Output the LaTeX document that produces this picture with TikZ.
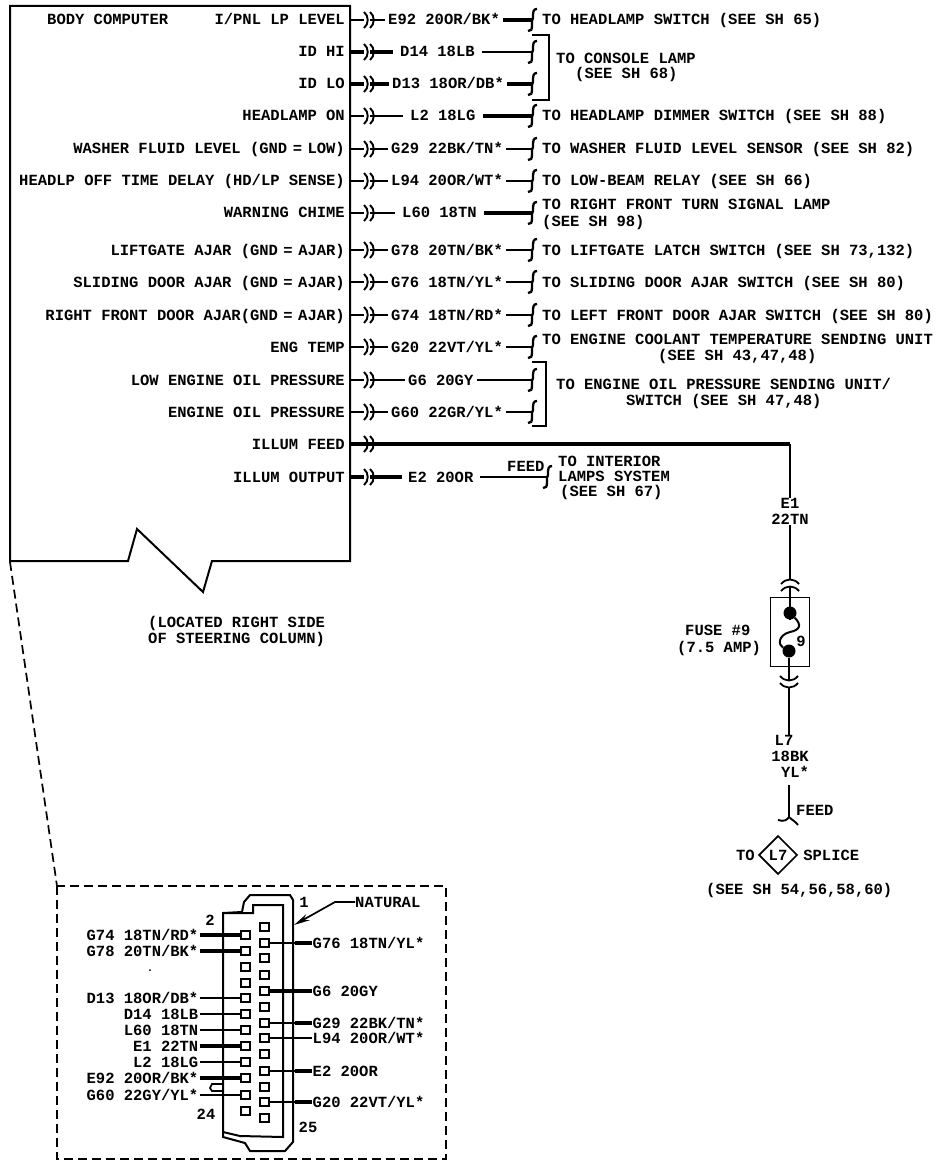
\documentclass[tikz,border=0pt]{standalone}
\usepackage{fontspec}
\setmonofont{Liberation Mono}
\usetikzlibrary{positioning,shapes.geometric,arrows.meta}
\newcommand{\wideeq}{\hspace{5.5pt}=\hspace{5.5pt}}
\tikzset{
    wthin/.style={line width=1.7pt},
    wthick/.style={line width=3.4pt},
    boxline/.style={line width=2pt},
    pintext/.style={anchor=east,inner xsep=5pt,inner ysep=0pt},
    wiretext/.style={anchor=west,inner xsep=3pt,inner ysep=0pt},
    desttext/.style={anchor=west,inner xsep=10pt,inner ysep=0pt},
    note/.style={anchor=west,inner sep=0pt},
    tag/.style={inner xsep=1pt,inner ysep=0pt},
    pinbox/.style={draw,line width=2pt,inner sep=0pt,minimum width=9pt,minimum height=8pt,text height=0pt},
    fusedot/.style={circle,fill,inner sep=0pt,minimum size=13pt,text height=0pt},
    plug/.pic={
        \fill[white] (0,-3) rectangle (6,3);
        \draw[line width=1.9pt] (0,-8) .. controls (5,-4) and (5,4) .. (0,8);
        \draw[line width=1.9pt] (6,-8) .. controls (11,-4) and (11,4) .. (6,8);},
    plugv/.pic={
        \fill[white] (-3,0) rectangle (3,7);
        \draw[line width=1.8pt] (-9,4) .. controls (-4,-2) and (4,-2) .. (9,4);
        \draw[line width=1.8pt] (-9,11) .. controls (-4,5) and (4,5) .. (9,11);},
    brk/.pic={
        \draw[line width=2.3pt] (5,-11) .. controls (1,-11) and (1,-8) .. (1,-2) -- (0,1) -- (0,5) .. controls (0,10) and (-1,11) .. (-4,11);}
}

\begin{document}
\begin{tikzpicture}[x=1pt,y=-1pt,every node/.style={font=\ttfamily\bfseries\fontsize{15.5}{16}\selectfont,text height=10pt,text depth=0pt}]
\useasboundingbox (0,0) rectangle (944,1166);

% body computer
\draw[boxline] (10,6) -- (350,6) -- (350,561) -- (212,561) -- (203,592) -- (137,529) -- (128,561) -- (10,561) -- cycle;
\node[anchor=west,inner sep=0pt] (body) at (47,20) {BODY COMPUTER};
\node[note] (located) at (148,622) {(LOCATED RIGHT SIDE};
\node[note] (column) at (148,638) {OF STEERING COLUMN)};

% left side names
\node[pintext] (level) at (350,20) {I/PNL LP LEVEL};
\node[pintext] (idhi) at (350,52) {ID HI};
\node[pintext] (idlo) at (350,84) {ID LO};
\node[pintext] (lampon) at (350,116) {HEADLAMP ON};
\node[pintext] (washer) at (350,149) {WASHER FLUID LEVEL (GND\wideeq LOW)};
\node[pintext] (delay) at (350,181) {HEADLP OFF TIME DELAY (HD/LP SENSE)};
\node[pintext] (chime) at (350,213) {WARNING CHIME};
\node[pintext] (liftgate) at (350,250) {LIFTGATE AJAR (GND\wideeq AJAR)};
\node[pintext] (sliding) at (350,282) {SLIDING DOOR AJAR (GND\wideeq AJAR)};
\node[pintext] (rfdoor) at (350,315) {RIGHT FRONT DOOR AJAR(GND\wideeq AJAR)};
\node[pintext] (engtemp) at (350,347) {ENG TEMP};
\node[pintext] (lowoil) at (350,380) {LOW ENGINE OIL PRESSURE};
\node[pintext] (oil) at (350,412) {ENGINE OIL PRESSURE};
\node[pintext] (feed) at (350,444) {ILLUM FEED};
\node[pintext] (output) at (350,477) {ILLUM OUTPUT};

% wire names
\node[wiretext] (e92) at (385,20) {E92 20OR/BK*};
\node[wiretext,inner xsep=7pt] (d14) at (393,52) {D14 18LB};
\node[wiretext] (d13) at (389,84) {D13 18OR/DB*};
\node[wiretext,inner xsep=7pt] (l2) at (403,116) {L2 18LG};
\node[wiretext] (g29) at (388,149) {G29 22BK/TN*};
\node[wiretext] (l94) at (388,181) {L94 20OR/WT*};
\node[wiretext,inner xsep=7pt] (l60) at (395,213) {L60 18TN};
\node[wiretext] (g78) at (388,250) {G78 20TN/BK*};
\node[wiretext] (g76) at (388,282) {G76 18TN/YL*};
\node[wiretext] (g74) at (388,315) {G74 18TN/RD*};
\node[wiretext] (g20) at (388,347) {G20 22VT/YL*};
\node[wiretext] (g6) at (405,380) {G6 20GY};
\node[wiretext] (g60) at (388,412) {G60 22GR/YL*};
\node[wiretext,inner xsep=6pt] (e2) at (402,477) {E2 20OR};

% destinations
\node[desttext] (tolamp) at (532,20) {TO HEADLAMP SWITCH (SEE SH 65)};
\coordinate (tohi) at (532,52);
\coordinate (tolo) at (532,84);
\node[note] (console) at (556,59) {TO CONSOLE LAMP};
\node[note] (consolesh) at (575,74) {(SEE SH 68)};
\node[desttext] (todimmer) at (532,116) {TO HEADLAMP DIMMER SWITCH (SEE SH 88)};
\node[desttext] (towasher) at (532,149) {TO WASHER FLUID LEVEL SENSOR (SEE SH 82)};
\node[desttext] (torelay) at (532,181) {TO LOW-BEAM RELAY (SEE SH 66)};
\coordinate (toturn) at (532,213);
\node[note] (turn) at (542,205) {TO RIGHT FRONT TURN SIGNAL LAMP};
\node[note] (turnsh) at (542,221) {(SEE SH 98)};
\node[desttext] (tolatch) at (532,250) {TO LIFTGATE LATCH SWITCH (SEE SH 73,132)};
\node[desttext] (toslide) at (532,282) {TO SLIDING DOOR AJAR SWITCH (SEE SH 80)};
\node[desttext] (toleft) at (532,315) {TO LEFT FRONT DOOR AJAR SWITCH (SEE SH 80)};
\coordinate (totemp) at (532,347);
\node[note] (coolant) at (542,339) {TO ENGINE COOLANT TEMPERATURE SENDING UNIT};
\node[note] (coolantsh) at (658,355) {(SEE SH 43,47,48)};
\coordinate (tolow) at (532,380);
\coordinate (tooil) at (532,412);
\node[note] (sender) at (556,384) {TO ENGINE OIL PRESSURE SENDING UNIT/};
\node[note] (sendersh) at (626,400) {SWITCH (SEE SH 47,48)};
\coordinate (tolamps) at (547,477);
\node[note] (feedtag) at (507,466) {FEED};
\node[note] (interior) at (558,461) {TO INTERIOR};
\node[note] (lamps) at (558,476) {LAMPS SYSTEM};
\node[note] (lampssh) at (560,491) {(SEE SH 67)};

% wires
\draw[wthin] (level) -- (e92);
\draw[wthick] (e92) -- (tolamp);
\draw[wthick] (idhi) -- (d14);
\draw[wthin] (d14) -- (tohi);
\draw[wthick] (idlo) -- (d13);
\draw[wthick] (d13) -- (tolo);
\draw[wthin] (lampon) -- (l2);
\draw[wthick] (l2) -- (todimmer);
\draw[wthin] (washer) -- (g29);
\draw[wthin] (g29) -- (towasher);
\draw[wthin] (delay) -- (l94);
\draw[wthin] (l94) -- (torelay);
\draw[wthin] (chime) -- (l60);
\draw[wthick] (l60) -- (toturn);
\draw[wthin] (liftgate) -- (g78);
\draw[wthin] (g78) -- (tolatch);
\draw[wthin] (sliding) -- (g76);
\draw[wthin] (g76) -- (toslide);
\draw[wthin] (rfdoor) -- (g74);
\draw[wthin] (g74) -- (toleft);
\draw[wthin] (engtemp) -- (g20);
\draw[wthin] (g20) -- (totemp);
\draw[wthin] (lowoil) -- (g6);
\draw[wthin] (g6) -- (tolow);
\draw[wthin] (oil) -- (g60);
\draw[wthin] (g60) -- (tooil);
\draw[wthick] (output) -- (e2);
\draw[wthin] (e2) -- (tolamps);
\draw[line width=2.8pt] (532,35) -- (549,35) -- (549,100) -- (532,100);
\draw[wthin] (532,362) -- (546,362) -- (546,426) -- (532,426);

\pic at (364,20) {plug};
\pic at (364,52) {plug};
\pic at (364,84) {plug};
\pic at (364,116) {plug};
\pic at (364,149) {plug};
\pic at (364,181) {plug};
\pic at (364,213) {plug};
\pic at (364,250) {plug};
\pic at (364,282) {plug};
\pic at (364,315) {plug};
\pic at (364,347) {plug};
\pic at (364,380) {plug};
\pic at (364,412) {plug};
\pic at (364,444) {plug};
\pic at (364,477) {plug};

\pic at (tolamp.west) {brk};
\pic at (tohi) {brk};
\pic at (tolo) {brk};
\pic at (todimmer.west) {brk};
\pic at (towasher.west) {brk};
\pic at (torelay.west) {brk};
\pic at (toturn) {brk};
\pic at (tolatch.west) {brk};
\pic at (toslide.west) {brk};
\pic at (toleft.west) {brk};
\pic at (totemp) {brk};
\pic at (tolow) {brk};
\pic at (tooil) {brk};
\pic at (tolamps) {brk};

% illum feed and fuse
\coordinate (turnfeed) at (790,444);
\node[tag] (e1) at (790,503) {E1};
\node[tag,below=6pt of e1] (e1ga) {22TN};
\node[draw,line width=1.7pt,inner sep=0pt,minimum width=39pt,minimum height=69pt,text height=0pt] (fuse) at (790,632) {};
\node[fusedot] (fusea) at (790,613) {};
\node[fusedot] (fuseb) at (789,651) {};
\node[tag] (nine) at (801,641) {9};
\node[note] (fusename) at (685,630) {FUSE \#9};
\node[note] (fuseamp) at (677,647) {(7.5 AMP)};
\node[tag] (l7) at (784,740) {L7};
\node[tag] (l7ga) at (790,756) {18BK};
\node[tag] (l7yl) at (795,772) {YL*};
\coordinate (hooktop) at (789,785);
\coordinate (hookend) at (789,817);
\node[note] (hookfeed) at (796,810) {FEED};
\node[diamond,draw,line width=1.7pt,aspect=1,inner sep=2.5pt] (splice) at (778,855) {L7};
\node[tag,left=2pt of splice] (to) {TO};
\node[tag,right=4pt of splice] (word) {SPLICE};
\node[note] (splicesh) at (706,889) {(SEE SH 54,56,58,60)};

\draw[wthick] (feed) -- (turnfeed);
\draw[wthin] (turnfeed) -- (e1);
\draw[wthin] (e1ga) -- (fuse);
\draw[wthin] (fuse) -- (fusea);
\draw[line width=2pt] (fusea) .. controls (802,625) and (800,630) .. (790,632) .. controls (778,635) and (778,645) .. (fuseb);
\draw[wthin] (fuseb) -- (fuse.south -| fuseb);
\draw[wthin] (fuse.south -| fuseb) -- (l7.north -| fuseb);
\draw[wthin] (hooktop) -- (hookend);
\draw[line width=1.9pt] (778,820) .. controls (784,822) and (787,820) .. (hookend) .. controls (792,820) and (795,821) .. (798,825);
\pic at (790,580) {plugv};
\pic[yscale=-1] at (789,687) {plugv};

% connector view
\draw[line width=1.7pt,dash pattern=on 9pt off 5pt] (10,562) -- (57,886);
\draw[line width=1.9pt,dash pattern=on 9pt off 5pt] (57,886) rectangle (446,1159);
\draw[boxline] (223,913) -- (242,912) -- (244,902) -- (250,895) -- (290,895) -- (293,900) -- (293,1142) -- (285,1151) -- (250,1151) -- (245,1143) -- (223,1137) -- cycle;
\draw[boxline] (223,913) -- (253,913) -- (253,905) -- (283,905) -- (283,1137) -- (240,1136) -- (223,1132);
\draw[wthin] (223,1084) -- (212,1084) -- (210,1088) -- (212,1091) -- (223,1091);
\fill (150,970) circle (1);

\node[pinbox] (pl1) at (245,935) {};
\node[pinbox] (pl2) at (245,951) {};
\node[pinbox] (pl3) at (245,967) {};
\node[pinbox] (pl4) at (245,983) {};
\node[pinbox] (pl5) at (245,998) {};
\node[pinbox] (pl6) at (245,1014) {};
\node[pinbox] (pl7) at (245,1030) {};
\node[pinbox] (pl8) at (245,1046) {};
\node[pinbox] (pl9) at (245,1062) {};
\node[pinbox] (pl10) at (245,1078) {};
\node[pinbox] (pl11) at (245,1095) {};
\node[pinbox] (pl12) at (245,1111) {};
\node[pinbox] (pr1) at (264,927) {};
\node[pinbox] (pr2) at (264,943) {};
\node[pinbox] (pr3) at (264,958) {};
\node[pinbox] (pr4) at (264,975) {};
\node[pinbox] (pr5) at (264,991) {};
\node[pinbox] (pr6) at (264,1007) {};
\node[pinbox] (pr7) at (264,1023) {};
\node[pinbox] (pr8) at (264,1038) {};
\node[pinbox] (pr9) at (264,1054) {};
\node[pinbox] (pr10) at (264,1071) {};
\node[pinbox] (pr11) at (264,1087) {};
\node[pinbox] (pr12) at (264,1102) {};
\node[pinbox] (pr13) at (264,1118) {};

\node[tag,left=40pt of pl1] (cg74) {G74 18TN/RD*};
\node[tag,left=40pt of pl2] (cg78) {G78 20TN/BK*};
\node[tag,left=40pt of pl5] (cd13) {D13 18OR/DB*};
\node[tag,left=40pt of pl6] (cd14) {D14 18LB};
\node[tag,left=40pt of pl7] (cl60) {L60 18TN};
\node[tag,left=40pt of pl8] (ce1) {E1 22TN};
\node[tag,left=40pt of pl9] (cl2) {L2 18LG};
\node[tag,left=40pt of pl10] (ce92) {E92 20OR/BK*};
\node[tag,left=40pt of pl11] (cg60) {G60 22GY/YL*};
\node[tag,right=42pt of pr2] (cg76) {G76 18TN/YL*};
\node[tag,right=42pt of pr5] (cg6) {G6 20GY};
\node[tag,right=42pt of pr7] (cg29) {G29 22BK/TN*};
\node[tag,right=42pt of pr8] (cl94) {L94 20OR/WT*};
\node[tag,right=42pt of pr10] (ce2) {E2 20OR};
\node[tag,right=42pt of pr12] (cg20) {G20 22VT/YL*};

\draw[wthick] (cg74) -- (pl1);
\draw[wthick] (cg78) -- (pl2);
\draw[wthin] (cd13) -- (pl5);
\draw[wthin] (cd14) -- (pl6);
\draw[wthin] (cl60) -- (pl7);
\draw[wthick] (ce1) -- (pl8);
\draw[wthin] (cl2) -- (pl9);
\draw[wthick] (ce92) -- (pl10);
\draw[wthin] (cg60) -- (pl11);
\draw[wthin] (pr2) -- (cg76);
\draw[wthick] (cg76.west) -- ++(-17,0);
\draw[wthick] (pr5) -- (cg6);
\draw[wthin] (pr7) -- (cg29);
\draw[wthick] (cg29.west) -- ++(-17,0);
\draw[wthin] (pr8) -- (cl94);
\draw[wthin] (pr10) -- (ce2);
\draw[wthick] (ce2.west) -- ++(-17,0);
\draw[wthin] (pr12) -- (cg20);
\draw[wthick] (cg20.west) -- ++(-17,0);

\node[tag] (one) at (304,902) {1};
\node[tag] (two) at (210,920) {2};
\node[tag] (twentyfour) at (206,1114) {24};
\node[tag] (twentyfive) at (308,1127) {25};
\node[note] (natural) at (355,902) {NATURAL};
\coordinate (naturalbend) at (335,902);
\coordinate (naturaltip) at (294,925);
\draw[wthin,-{Stealth[length=16pt,width=7pt]}] (natural) -- (naturalbend) -- (naturaltip);
\end{tikzpicture}
\end{document}
